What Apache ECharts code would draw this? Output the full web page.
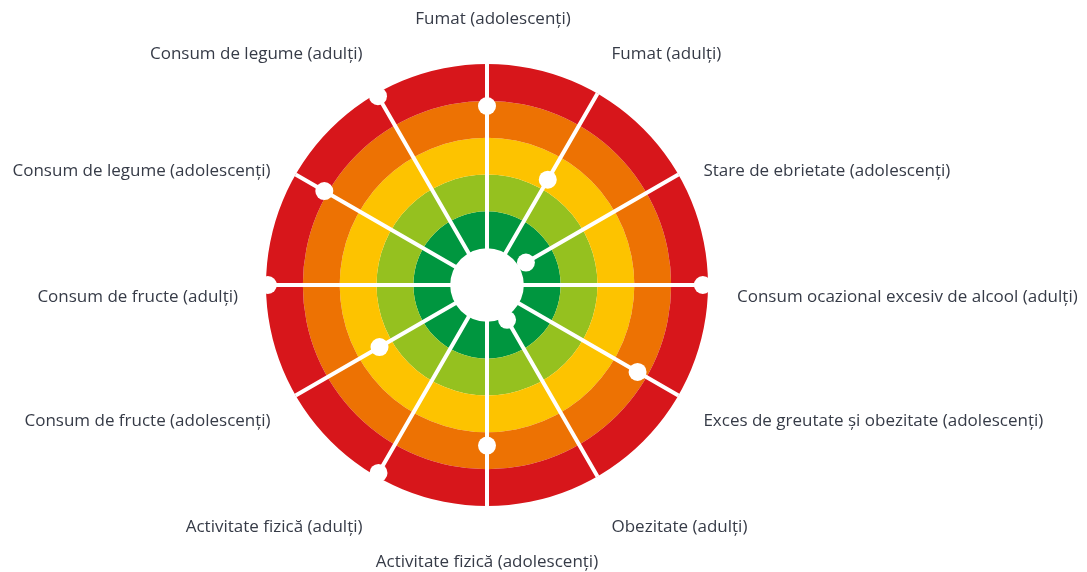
<!DOCTYPE html>
<html>
<head>
<meta charset="utf-8">
<style>
  html, body { margin: 0; padding: 0; background: #fff; }
  #chart { width: 1087px; height: 572px; }
</style>
<script src="https://cdn.jsdelivr.net/npm/echarts@6/dist/echarts.min.js"></script>
</head>
<body>
<div id="chart"></div>
<script>
// indicatorii, in sensul acelor de ceasornic, incepand de sus
var categories = [
  'Fumat (adolescenți)',
  'Fumat (adulți)',
  'Stare de ebrietate (adolescenți)',
  'Consum ocazional excesiv de alcool (adulți)',
  'Exces de greutate și obezitate (adolescenți)',
  'Obezitate (adulți)',
  'Activitate fizică (adolescenți)',
  'Activitate fizică (adulți)',
  'Consum de fructe (adolescenți)',
  'Consum de fructe (adulți)',
  'Consum de legume (adolescenți)',
  'Consum de legume (adulți)'
]
// pozitia punctului pe raza (1 = marginea cercului alb, 6 = marginea exterioara)
var values = [4.86, 3.30, 1.22, 5.86, 4.72, 1.09, 4.36, 5.89, 3.37, 5.95, 5.10, 5.92]
// culorile inelelor, din centru spre exterior
var ringColors = ['#ffffff', '#00963f', '#95c11f', '#fdc300', '#ed7203', '#d7161b']

// deplasarea etichetelor fata de marginea cercului (px)
var labelOffsets = [
  [6, -45], [14, -39], [25, -3], [29, 12], [25, 26], [14, 51],
  [0, 56], [-14, 51], [-25, 26], [-28, 12], [-25, -3], [-14, -39]
]
var labelAligns = ['center', 'left', 'left', 'left', 'left', 'left',
  'center', 'right', 'right', 'right', 'right', 'right']

var chart = echarts.init(document.getElementById('chart'))

var step = 360 / categories.length

var points = values.map(function (v, i) {
  return [v, i * step]
})

var labelPoints = categories.map(function (name, i) {
  return {
    value: [6, i * step],
    name: name,
    label: {
      offset: labelOffsets[i],
      align: labelAligns[i]
    }
  }
})

var option = {
  animation: false,
  polar: {
    center: [487, 285],
    radius: 221
  },
  angleAxis: {
    type: 'value',
    min: 0,
    max: 360,
    interval: 30,
    startAngle: 90,
    clockwise: true,
    z: 3,
    axisLine: { show: false },
    axisTick: { show: false },
    axisLabel: { show: false },
    splitLine: {
      show: true,
      lineStyle: { color: '#fff', width: 4 }
    }
  },
  radiusAxis: {
    type: 'value',
    min: 0,
    max: 6,
    interval: 1,
    z: 1,
    axisLine: { show: false },
    axisTick: { show: false },
    axisLabel: { show: false },
    splitLine: { show: false },
    splitArea: {
      show: true,
      areaStyle: { color: ringColors }
    }
  },
  series: [
    {
      type: 'scatter',
      coordinateSystem: 'polar',
      data: points,
      symbol: 'circle',
      symbolSize: 18,
      itemStyle: { color: '#fff', opacity: 1 },
      emphasis: { disabled: true },
      z: 5
    },
    {
      // doar etichetele indicatorilor
      type: 'scatter',
      coordinateSystem: 'polar',
      data: labelPoints,
      symbolSize: 1,
      itemStyle: { color: 'rgba(0,0,0,0)', opacity: 1 },
      silent: true,
      label: {
        show: true,
        position: 'inside',
        verticalAlign: 'middle',
        formatter: '{b}',
        color: '#363b47',
        fontFamily: 'Open Sans',
        fontSize: 17
      },
      z: 6
    }
  ]
}

chart.setOption(option)
</script>
</body>
</html>
